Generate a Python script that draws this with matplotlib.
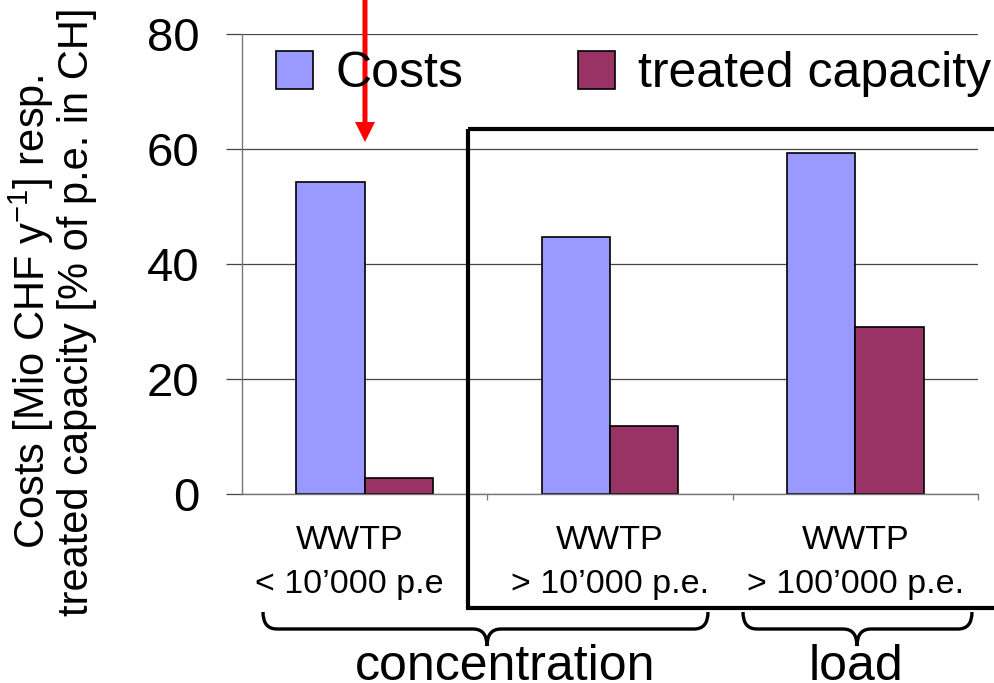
import numpy as np
import matplotlib
matplotlib.use("Agg")
import matplotlib.pyplot as plt
import matplotlib.transforms as mtransforms
from matplotlib.patches import Rectangle, FancyArrow, PathPatch
from matplotlib.path import Path

plt.rcParams['font.family'] = ['Liberation Sans', 'DejaVu Sans']
plt.rcParams['mathtext.default'] = 'regular'

# data
categories = ["WWTP\n< 10\u2019000 p.e", "WWTP\n> 10\u2019000 p.e.", "WWTP\n> 100\u2019000 p.e."]
costs = [54.3, 44.7, 59.3]
treated = [2.8, 11.8, 29.0]
series_names = ["Costs", "treated capacity"]
yticks = [0, 20, 40, 60, 80]

col_costs = "#9999FF"
col_treated = "#993366"

W, H = 994, 683
fig = plt.figure(figsize=(W / 100, H / 100), dpi=100)
ax = fig.add_axes([242 / W, 1 - 494 / H, (978 - 242) / W, (494 - 34) / H])

x = np.arange(len(categories))
bw = 0.278
b1 = ax.bar(x - bw / 2, costs, bw, color=col_costs, edgecolor="black", linewidth=1.2, label=series_names[0])
b2 = ax.bar(x + bw / 2, treated, bw, color=col_treated, edgecolor="black", linewidth=1.2, label=series_names[1])

ax.set_xlim(-0.5, 2.5)
ax.set_ylim(0, 80)
ax.set_yticks(yticks)
ax.set_axisbelow(True)
ax.yaxis.grid(True, color="#444444", linewidth=0.9)
for s in ["top", "right"]:
    ax.spines[s].set_visible(False)
for s in ["left", "bottom"]:
    ax.spines[s].set_color("#777777")
    ax.spines[s].set_linewidth(1.0)

ax.tick_params(axis="y", length=11.5, width=0.9, color="#444444", pad=19, labelsize=34)
ax.set_xticks(x)
ax.set_xticklabels(categories, fontsize=24.5, linespacing=1.55)
ax.set_xticks([0.5, 1.5, 2.5], minor=True)
ax.tick_params(axis="x", which="major", length=0, pad=22)
ax.tick_params(axis="x", which="minor", length=4, width=0.9, color="#777777")
# first label sits a little left of its group in the original
lab0 = ax.get_xticklabels()[0]
lab0.set_transform(lab0.get_transform() + mtransforms.ScaledTranslation(-0.15, 0, fig.dpi_scale_trans))

fig.text(52 / W, 1 - 312 / H,
         "Costs [Mio CHF y$^{-1}$] resp.\ntreated capacity [% of p.e. in CH]",
         rotation=90, ha="center", va="center", fontsize=30, linespacing=1.05)

fig.legend(handles=[b1, b2], loc="upper left", bbox_to_anchor=(276 / W, 1 - 51 / H),
           ncol=2, frameon=False, fontsize=36, borderpad=0, borderaxespad=0,
           handlelength=0.74, handleheight=0.78, handletextpad=0.45, columnspacing=2.3)

# overlay in pixel coordinates for the annotations
ov = fig.add_axes([0, 0, 1, 1], zorder=5)
ov.set_xlim(0, W)
ov.set_ylim(H, 0)
ov.axis("off")
ov.patch.set_alpha(0)

ov.add_patch(Rectangle((468, 129), 560, 479, fill=False, edgecolor="black", linewidth=3, clip_on=False))
ov.add_patch(FancyArrow(365, -2, 0, 144, width=5, head_width=20, head_length=20,
                        length_includes_head=True, color="#FF0000", linewidth=0))


def brace(x0, x1, xm, y0, h, r=14):
    ym = y0 + h / 2
    verts = [(x0, y0), (x0, ym), (x0 + r, ym),
             (xm - r, ym), (xm, ym), (xm, y0 + h),
             (xm, ym), (xm + r, ym),
             (x1 - r, ym), (x1, ym), (x1, y0)]
    codes = [Path.MOVETO, Path.CURVE3, Path.CURVE3,
             Path.LINETO, Path.CURVE3, Path.CURVE3,
             Path.CURVE3, Path.CURVE3,
             Path.LINETO, Path.CURVE3, Path.CURVE3]
    ov.add_patch(PathPatch(Path(verts, codes), fill=False, edgecolor="black", linewidth=2.4))


brace(263, 708, 487, 612, 34)
brace(743, 972, 857, 612, 34)

ov.text(505, 680, "concentration", fontsize=36, ha="center", va="baseline")
ov.text(856, 680, "load", fontsize=36, ha="center", va="baseline")

fig.savefig("out.png", dpi=100)
